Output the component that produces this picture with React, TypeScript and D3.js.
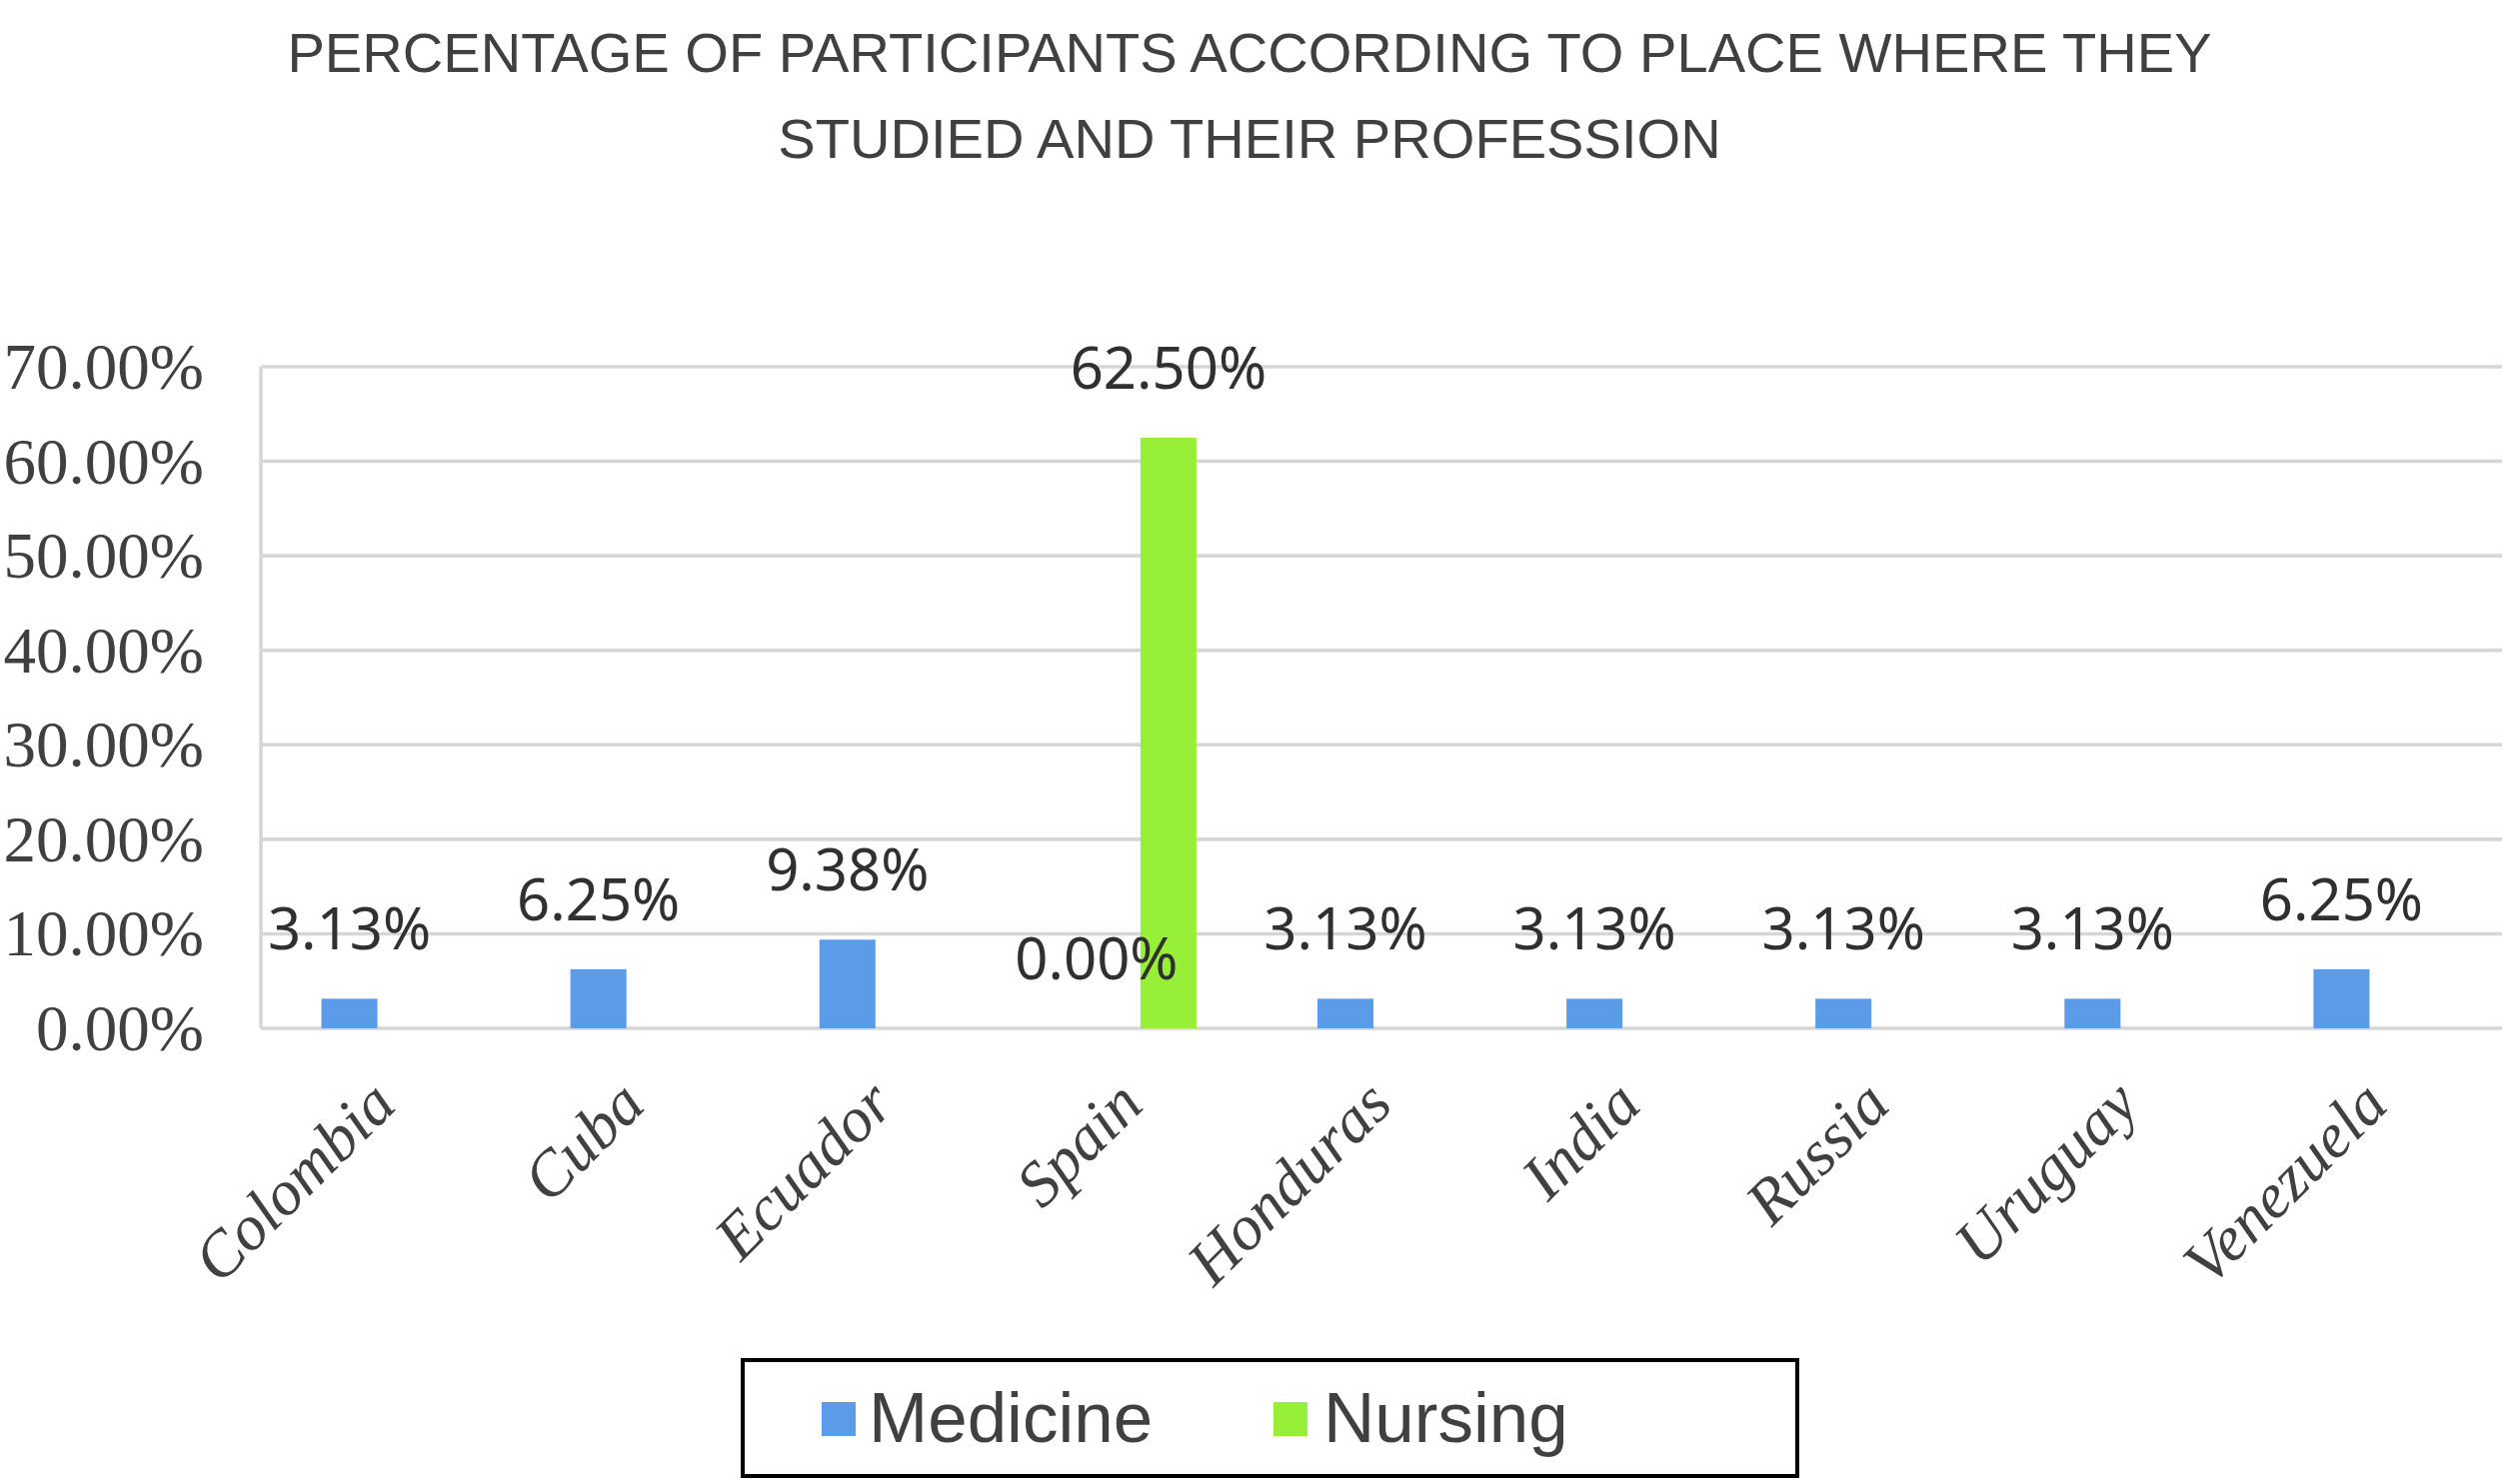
import React from "react";
import * as d3 from "d3";

const categories = ["Colombia", "Cuba", "Ecuador", "Spain", "Honduras", "India", "Russia", "Uruguay", "Venezuela"];
const medicine: (number | null)[] = [0.0313, 0.0625, 0.0938, 0.0, 0.0313, 0.0313, 0.0313, 0.0313, 0.0625];
const nursing: (number | null)[] = [null, null, null, 0.625, null, null, null, null, null];
const seriesNames = ["Medicine", "Nursing"];
const seriesColors = ["#5b9be8", "#98ef38"];
const yTicks = [0, 0.1, 0.2, 0.3, 0.4, 0.5, 0.6, 0.7];
const titleLines = [
  "PERCENTAGE OF PARTICIPANTS ACCORDING TO PLACE WHERE THEY",
  "STUDIED AND THEIR PROFESSION",
];

const W = 2508;
const H = 1485;
const plot = { left: 261, right: 2503, top: 367, bottom: 1029 };

export default function App() {
  const x = d3.scaleBand<string>().domain(categories).range([plot.left, plot.right]).padding(0);
  const y = d3.scaleLinear().domain([0, 0.7]).range([plot.bottom, plot.top]);
  const bw = x.bandwidth();
  const inner = d3
    .scaleBand<string>()
    .domain(seriesNames)
    .range([-0.257 * bw, 0.257 * bw])
    .paddingInner(0.222)
    .paddingOuter(0);
  const fmt = d3.format(".2%");
  const series = [medicine, nursing];
  const grid = "#d6d6d6";

  const marks: { si: number; ci: number; v: number; bx: number; w: number }[] = [];
  series.forEach((vals, si) =>
    vals.forEach((v, ci) => {
      if (v === null) return;
      const bx = (x(categories[ci]) as number) + bw / 2 + (inner(seriesNames[si]) as number);
      marks.push({ si, ci, v, bx, w: inner.bandwidth() });
    })
  );

  return (
    <svg
      width={W}
      height={H}
      style={{ position: "absolute", left: 0, top: 0, background: "#fff" }}
    >
      <rect x={0} y={0} width={W} height={H} fill="#fff" />
      {titleLines.map((t, i) => (
        <text
          key={t}
          x={1250}
          y={72 + i * 86}
          textAnchor="middle"
          fontFamily="'Liberation Sans', Arial, sans-serif"
          fontSize={55}
          fill="#404040"
          transform={`translate(1250 0) scale(1.02 1) translate(-1250 0)`}
        >
          {t}
        </text>
      ))}

      {yTicks.map((t) => (
        <g key={t}>
          <line
            x1={plot.left}
            x2={plot.right}
            y1={y(t)}
            y2={y(t)}
            stroke={grid}
            strokeWidth={3.6}
          />
          <text
            x={204}
            y={y(t) + 22}
            textAnchor="end"
            fontFamily="'Liberation Serif', 'Times New Roman', serif"
            fontSize={65}
            fill="#404040"
          >
            {fmt(t)}
          </text>
        </g>
      ))}
      <line
        x1={plot.left}
        x2={plot.left}
        y1={plot.top}
        y2={plot.bottom}
        stroke={grid}
        strokeWidth={3.6}
      />

      {marks.map((m) => (
        <rect
          key={`b-${m.si}-${m.ci}`}
          x={m.bx}
          y={y(m.v)}
          width={m.w}
          height={plot.bottom - y(m.v)}
          fill={seriesColors[m.si]}
        />
      ))}
      {marks.map((m) => (
        <text
          key={`l-${m.si}-${m.ci}`}
          x={m.bx + m.w / 2}
          y={y(m.v) - 49}
          textAnchor="middle"
          fontFamily="'Noto Sans', sans-serif"
          fontSize={58}
          fill="#303030"
        >
          {fmt(m.v)}
        </text>
      ))}

      {categories.map((c) => {
        const cx = (x(c) as number) + bw / 2 + 13;
        const cy = 1108;
        return (
          <text
            key={c}
            transform={`translate(${cx} ${cy}) rotate(-45)`}
            textAnchor="end"
            fontFamily="'Liberation Serif', 'Times New Roman', serif"
            fontStyle="italic"
            fontSize={64}
            fill="#404040"
          >
            {c}
          </text>
        );
      })}

      <rect x={743} y={1361} width={1055} height={116} fill="#fff" stroke="#000" strokeWidth={4} />
      {seriesNames.map((s, i) => {
        const sx = [822, 1274][i];
        const tx = [869, 1324][i];
        return (
          <g key={s}>
            <rect x={sx} y={1403} width={34} height={34} fill={seriesColors[i]} />
            <text
              x={tx}
              y={1443}
              fontFamily="'Liberation Sans', Arial, sans-serif"
              fontSize={71}
              fill="#404040"
            >
              {s}
            </text>
          </g>
        );
      })}
    </svg>
  );
}
